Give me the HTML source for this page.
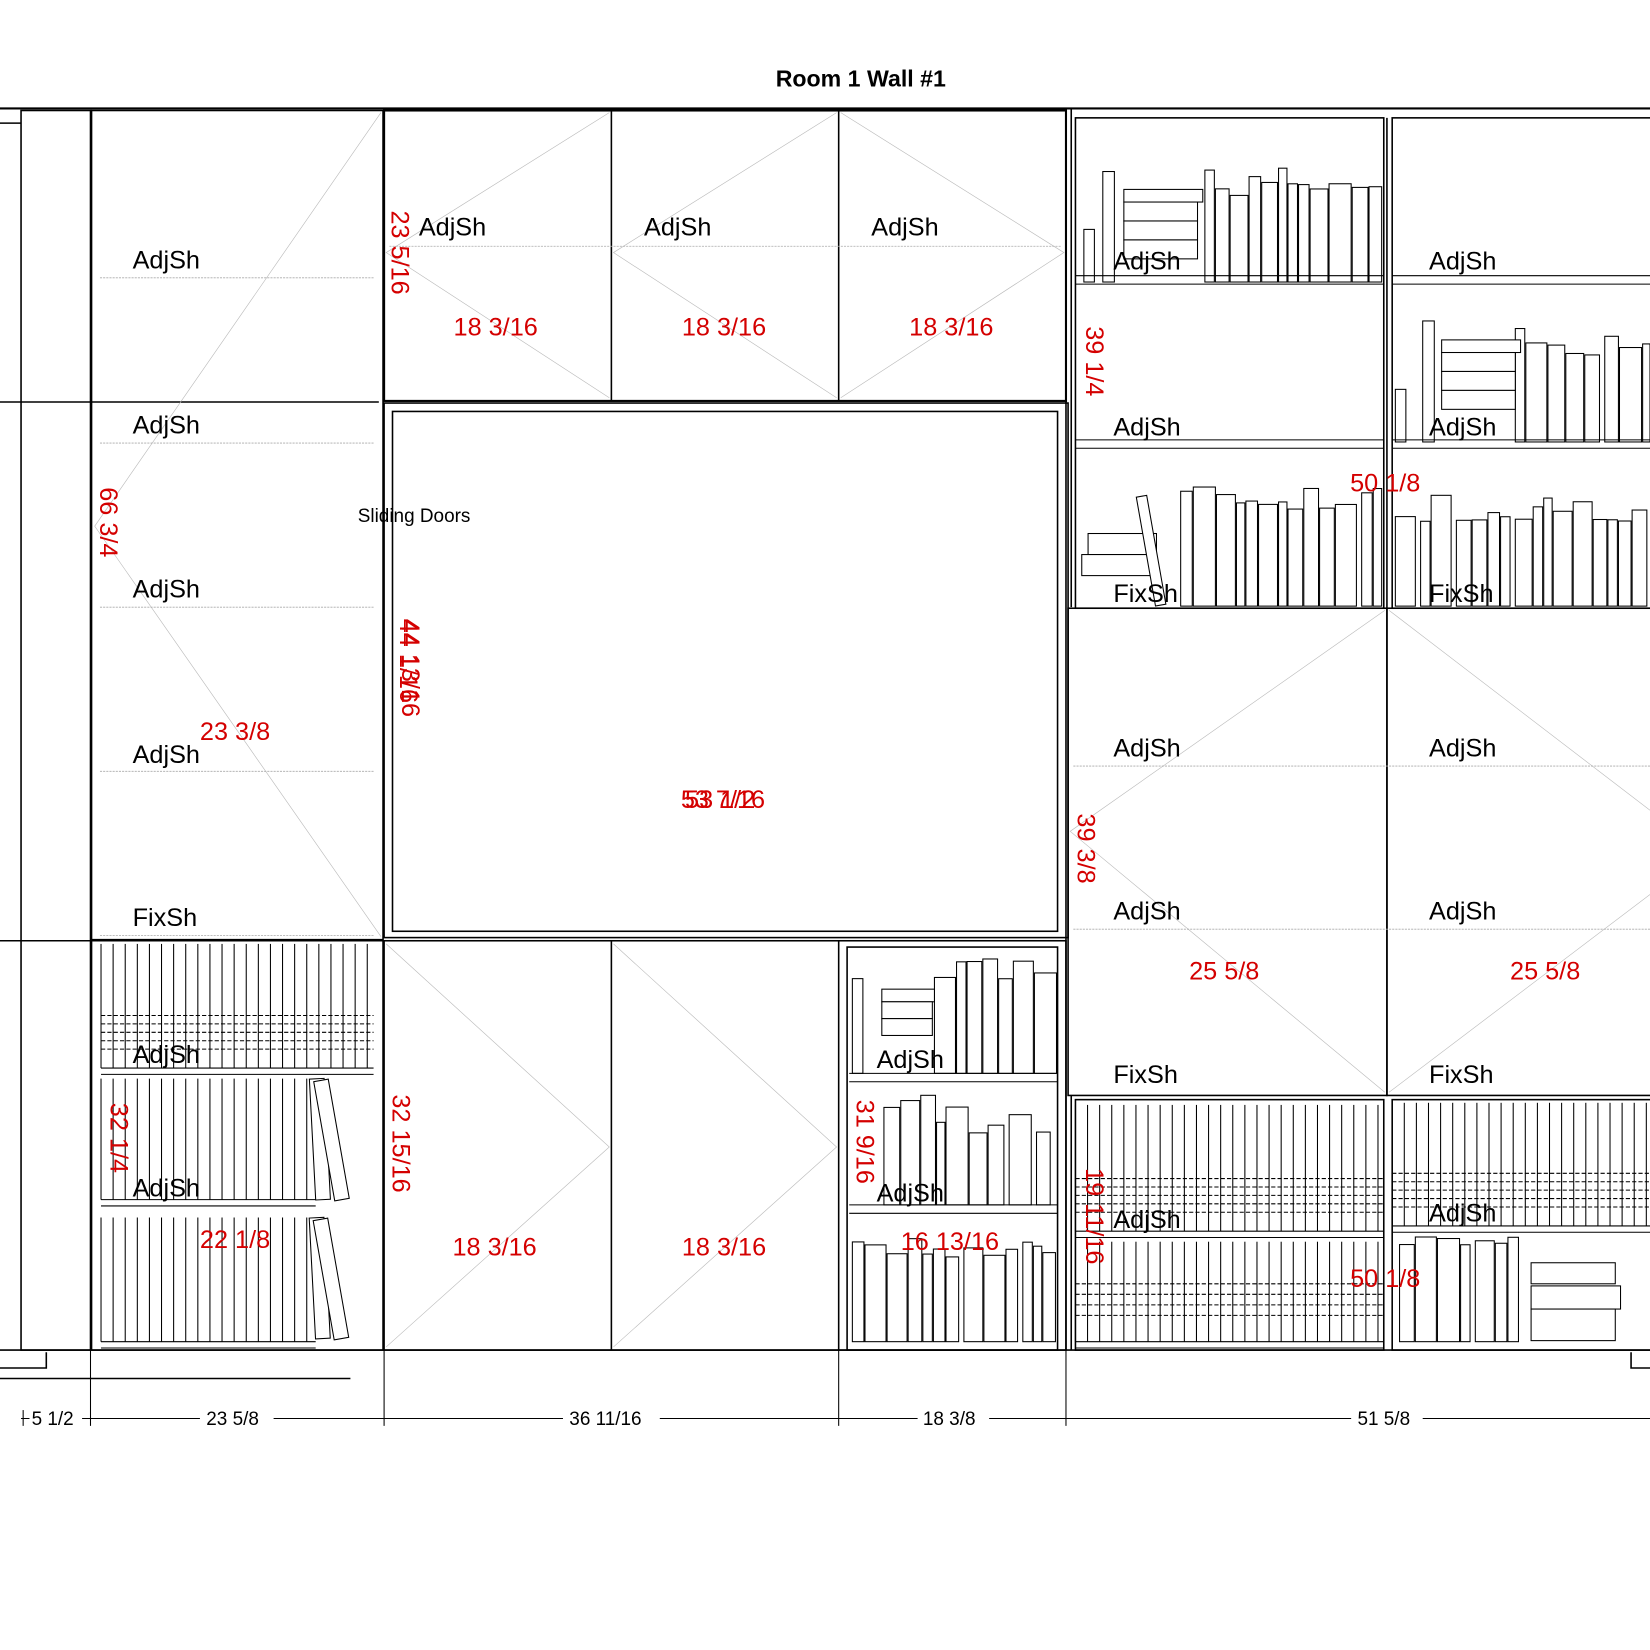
<!DOCTYPE html>
<html><head><meta charset="utf-8"><style>
html,body{margin:0;padding:0;background:#fff;width:1650px;height:1650px;overflow:hidden}
svg{display:block}
text{font-family:"Liberation Sans",sans-serif}
.b{font-size:24px;fill:#000}
.r{font-size:24px;fill:#d40000}
.d{font-size:18px;fill:#000}
</style></head><body>
<svg id="s" width="1650" height="1650" viewBox="0 0 1568 1568" xmlns="http://www.w3.org/2000/svg">
<g fill="none" stroke="#000" stroke-width="1.5">
<line x1="0" y1="103" x2="1568" y2="103" stroke-width="2"/>
<line x1="0" y1="1283" x2="1568" y2="1283"/>
<rect x="20" y="105" width="66" height="1178"/>
<polyline points="0,117 20,117"/><polyline points="0,1300 44,1300 44,1285"/>
<polyline points="1568,1300 1550,1300 1550,1285"/>
<line x1="0" y1="382" x2="360" y2="382"/><line x1="0" y1="894" x2="364" y2="894"/>
<line x1="0" y1="1310" x2="333" y2="1310"/>
<rect x="87" y="105" width="277" height="1178"/>
<line x1="87" y1="893" x2="364" y2="893"/>
<rect x="365" y="105" width="648" height="276" stroke-width="2"/>
<line x1="581" y1="105" x2="581" y2="381"/><line x1="797" y1="105" x2="797" y2="381"/>
<rect x="365" y="383" width="650" height="508"/>
<rect x="373" y="391" width="632" height="494"/>
<rect x="365" y="894" width="648" height="389"/>
<line x1="581" y1="894" x2="581" y2="1283"/><line x1="797" y1="894" x2="797" y2="1283"/>
<rect x="805" y="900" width="200" height="383"/>
<line x1="1013" y1="103" x2="1013" y2="1283"/><line x1="1018" y1="103" x2="1018" y2="577"/>
<rect x="1022" y="112" width="293" height="466"/><rect x="1323" y="112" width="260" height="466"/>
<line x1="1318" y1="112" x2="1318" y2="578"/>
<rect x="1015" y="578" width="303" height="463"/><rect x="1318" y="578" width="260" height="463"/>
<rect x="1022" y="1045" width="293" height="238"/><rect x="1323" y="1045" width="260" height="238"/>
<line x1="1018" y1="1041" x2="1018" y2="1283"/>
</g>
<g stroke="#bbb" stroke-width="0.6" fill="none">
<polyline points="362,107 90,500 362,890"/>
<polyline points="579,107 367,240 579,378"/>
<polyline points="795,107 583,240 795,378"/>
<polyline points="799,107 1011,240 799,378"/>
<polyline points="367,897 579,1090 367,1280"/>
<polyline points="583,897 795,1090 583,1280"/>
<polyline points="1316,580 1017,790 1316,1038"/>
<polyline points="1320,580 1568,770"/><polyline points="1320,1038 1568,850"/>
</g>
<g stroke="#aaa" stroke-width="0.8" stroke-dasharray="2,1">
<line x1="95" y1="264" x2="356" y2="264"/><line x1="95" y1="421" x2="356" y2="421"/>
<line x1="95" y1="577" x2="356" y2="577"/><line x1="95" y1="733" x2="356" y2="733"/>
<line x1="95" y1="889" x2="356" y2="889"/>
<line x1="370" y1="234" x2="1008" y2="234"/>
<line x1="1020" y1="728" x2="1568" y2="728"/><line x1="1020" y1="883" x2="1568" y2="883"/>
</g>
<g id="books" stroke="#000" stroke-width="1" fill="#fff"></g>
<g stroke="#000" stroke-width="1">
<line x1="20" y1="1348" x2="1568" y2="1348"/>
<line x1="22" y1="1340" x2="22" y2="1355"/><line x1="86" y1="1283" x2="86" y2="1355"/>
<line x1="365" y1="1283" x2="365" y2="1355"/><line x1="797" y1="1283" x2="797" y2="1355"/>
<line x1="1013" y1="1283" x2="1013" y2="1355"/>
</g>
<g fill="#fff">
<rect x="28" y="1336" width="50" height="22"/><rect x="190" y="1336" width="70" height="22"/>
<rect x="535" y="1336" width="92" height="22"/><rect x="872" y="1336" width="68" height="22"/>
<rect x="1284" y="1336" width="68" height="22"/>
</g>
<text x="818" y="82" text-anchor="middle" style="font-weight:bold;font-size:22px">Room 1 Wall #1</text>
<text class="d" x="30" y="1354">5 1/2</text><text class="d" x="196" y="1354">23 5/8</text>
<text class="d" x="541" y="1354">36 11/16</text><text class="d" x="877" y="1354">18 3/8</text>
<text class="d" x="1290" y="1354">51 5/8</text>
<text x="340" y="496" style="font-size:18px">Sliding Doors</text>
<g class="b">
<text class="b" x="126" y="255">AdjSh</text><text class="b" x="126" y="412">AdjSh</text>
<text class="b" x="126" y="568">AdjSh</text><text class="b" x="126" y="725">AdjSh</text>
<text class="b" x="126" y="880">FixSh</text>
<text class="b" x="398" y="224">AdjSh</text><text class="b" x="612" y="224">AdjSh</text><text class="b" x="828" y="224">AdjSh</text>
<text class="b" x="1058" y="256">AdjSh</text><text class="b" x="1358" y="256">AdjSh</text>
<text class="b" x="1058" y="414">AdjSh</text><text class="b" x="1358" y="414">AdjSh</text>
<text class="b" x="1058" y="572">FixSh</text><text class="b" x="1358" y="572">FixSh</text>
<text class="b" x="1058" y="719">AdjSh</text><text class="b" x="1358" y="719">AdjSh</text>
<text class="b" x="1058" y="874">AdjSh</text><text class="b" x="1358" y="874">AdjSh</text>
<text class="b" x="1058" y="1029">FixSh</text><text class="b" x="1358" y="1029">FixSh</text>
<text class="b" x="126" y="1010">AdjSh</text><text class="b" x="126" y="1137">AdjSh</text>
<text class="b" x="833" y="1015">AdjSh</text><text class="b" x="833" y="1142">AdjSh</text>
<text class="b" x="1058" y="1167">AdjSh</text><text class="b" x="1358" y="1161">AdjSh</text>
</g>
<text class="r" x="431" y="319">18 3/16</text><text class="r" x="648" y="319">18 3/16</text><text class="r" x="864" y="319">18 3/16</text>
<text class="r" x="190" y="703">23 3/8</text><text class="r" x="1283" y="467">50 1/8</text>
<text class="r" x="647" y="768">53 7/16</text><text class="r" x="651" y="768">53 1/2</text>
<text class="r" x="1130" y="931">25 5/8</text><text class="r" x="1435" y="931">25 5/8</text>
<text class="r" x="190" y="1186">22 1/8</text><text class="r" x="430" y="1193">18 3/16</text>
<text class="r" x="648" y="1193">18 3/16</text><text class="r" x="856" y="1188">16 13/16</text>
<text class="r" x="1283" y="1223">50 1/8</text>
<g class="r">
<text class="r" transform="translate(372,200) rotate(90)">23 5/16</text>
<text class="r" transform="translate(95,463) rotate(90)">66 3/4</text>
<text class="r" transform="translate(382,588) rotate(90)">44 13/16</text>
<text class="r" transform="translate(380,588) rotate(90)">44 1/16</text>
<text class="r" transform="translate(1032,310) rotate(90)">39 1/4</text>
<text class="r" transform="translate(1024,773) rotate(90)">39 3/8</text>
<text class="r" transform="translate(105,1048) rotate(90)">32 1/4</text>
<text class="r" transform="translate(373,1040) rotate(90)">32 15/16</text>
<text class="r" transform="translate(814,1045) rotate(90)">31 9/16</text>
<text class="r" transform="translate(1032,1110) rotate(90)">19 11/16</text>
</g>
</svg>
<script>
var g=document.getElementById('books'),ns='http://www.w3.org/2000/svg';
function r(x,y,w,h,extra){var e=document.createElementNS(ns,'rect');e.setAttribute('x',x);e.setAttribute('y',y);e.setAttribute('width',w);e.setAttribute('height',h);if(extra)e.setAttribute('transform',extra);g.appendChild(e);}
function l(x1,y1,x2,y2,st){var e=document.createElementNS(ns,'line');e.setAttribute('x1',x1);e.setAttribute('y1',y1);e.setAttribute('x2',x2);e.setAttribute('y2',y2);if(st)e.setAttribute('stroke-dasharray',st);g.appendChild(e);}
var seed=7;function rnd(){seed=(seed*9301+49297)%233280;return seed/233280;}
function books(x0,x1,yb,maxh,minh){var x=x0;while(x<x1-6){var w=8+Math.floor(rnd()*14);if(x+w>x1)w=x1-x;var h=minh+rnd()*(maxh-minh);r(x,yb-h,w,h);x+=w+(rnd()<0.15?5:1);}}
function sl(x0,x1,y){l(x0,y,x1,y);l(x0,y+8,x1,y+8);}
books(1030,1040,268,50,50);books(1048,1062,268,105,105);books(1145,1313,268,110,80);
books(1440,1568,420,110,80);books(1326,1336,420,50,50);books(1352,1364,420,115,115);
books(1122,1313,576,115,90);books(1326,1568,576,110,80);
sl(1022,1315,262);sl(1323,1568,262);sl(1022,1315,418);sl(1323,1568,418);
r(1068,180,75,12);r(1068,192,70,18);r(1068,210,70,18);r(1068,228,70,18);
r(1370,323,75,12);r(1370,335,70,18);r(1370,353,70,18);r(1370,371,70,18);
r(1034,507,65,20);r(1028,527,70,20);r(1098,470,10,105,'rotate(-10 1103 575)');
function dense(x0,x1,yt,yb){for(var x=x0;x<x1;x+=11.5)l(x,yt,x,yb);l(x0,yb,x1,yb);l(x0,yb+6,x1,yb+6);}
dense(96,355,897,1015);dense(96,300,1025,1140);dense(96,300,1157,1275);
r(300,1025,14,115,'rotate(-3 307 1140)');r(318,1025,14,115,'rotate(-10 325 1140)');
r(300,1157,14,115,'rotate(-3 307 1275)');r(318,1157,14,115,'rotate(-10 325 1275)');
for(var y=965;y<1000;y+=8)l(96,y,355,y,'4,2');
books(888,1004,1020,110,70);books(810,820,1020,90,90);books(840,1004,1145,110,60);books(810,1004,1275,100,80);
sl(807,1005,1020);sl(807,1005,1145);
r(838,940,50,12);r(838,952,48,16);r(838,968,48,16);
dense(1022,1315,1050,1170);dense(1022,1315,1180,1275);dense(1323,1568,1048,1165);
books(1330,1450,1275,100,90);r(1455,1200,80,20);r(1455,1222,85,22);r(1455,1244,80,30);
for(var y=1120;y<1160;y+=8){l(1022,y,1315,y,'4,2');l(1323,y-5,1568,y-5,'4,2');}
for(var y=1220;y<1260;y+=10)l(1022,y,1315,y,'4,2');
</script>
</body></html>
